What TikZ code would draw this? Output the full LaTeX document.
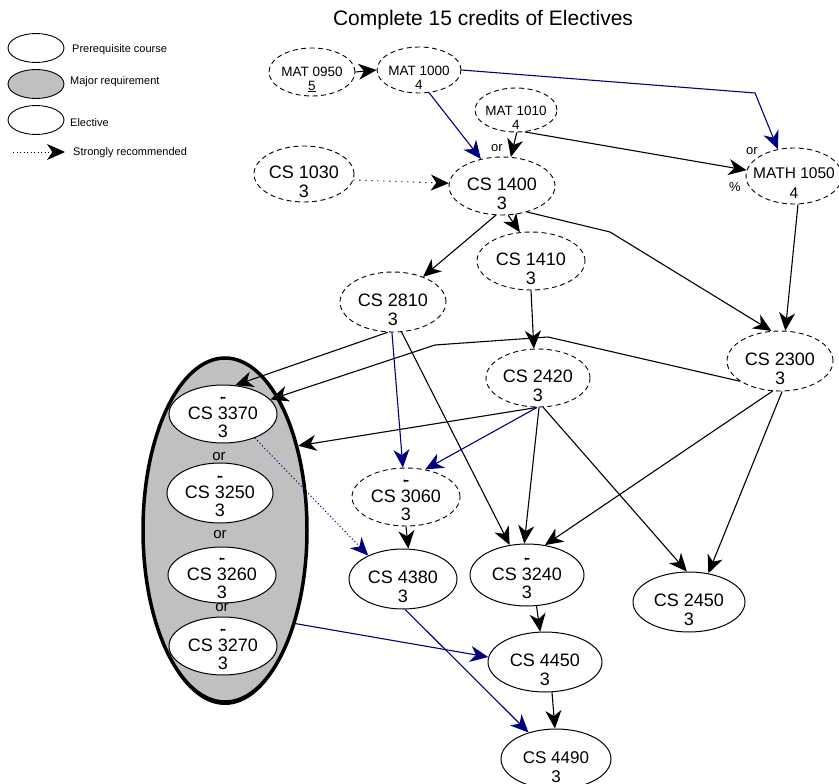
\documentclass[tikz,border=0pt]{standalone}
\usepackage{fontspec}
\setmainfont{Liberation Sans}
\newfontfamily\dejavu{DejaVu Sans}
\usetikzlibrary{arrows.meta,shapes.geometric,shadows}
\definecolor{navyc}{RGB}{0,0,128}
\definecolor{majgray}{RGB}{192,192,192}
\newcommand{\lsym}{{\dejavu\fontsize{7}{7}\selectfont ⬅}}
\newcommand{\ctext}[2]{\rule{0pt}{27.3pt}#1\\[2pt]#2}
\newcommand{\gtext}[2]{\rule{0pt}{9.3pt}\smash{\lsym}\\[2pt]#1\\[1pt]#2}
\newcommand{\mtext}[2]{\rule{0pt}{24.2pt}#1\\[0pt]#2}
\begin{document}
\begin{tikzpicture}[x=1pt,y=-1pt,
  crs/.style={ellipse, inner sep=-12pt, align=center, font=\fontsize{18}{17}\selectfont},
  pre/.style={crs, draw, dash pattern=on 5pt off 3.5pt, line width=0.9pt},
  ele/.style={crs, draw, fill=white, line width=1pt},
  small/.style={font=\fontsize{13.5}{14}\selectfont},
  tipb/.style={-{Stealth[length=18pt,width=16pt,inset=5.5pt]}},
  blk/.style={tipb, line width=1.1pt, draw=black},
  nvy/.style={tipb, line width=1.1pt, draw=navyc},
  dot/.style={dash pattern=on 1pt off 2.5pt},
  wdot/.style={dash pattern=on 1.2pt off 4.8pt},
  lab/.style={font=\fontsize{13}{13}\selectfont, inner sep=0pt},
  orl/.style={font=\fontsize{15}{15}\selectfont, inner sep=0pt},
  lgt/.style={anchor=west, inner sep=0pt, font=\fontsize{11}{11}\selectfont},
  lge/.style={ellipse, draw, line width=0.9pt, minimum width=56pt, minimum height=29pt}]
\useasboundingbox (0,0) rectangle (839,784);

% title
\node[font=\fontsize{21}{21}\selectfont] (title) at (483,20) {Complete 15 credits of Electives};

% legend
\node[lge] (lg1) at (36,48) {};
\node[lge, fill=majgray] (lg2) at (36,84) {};
\node[lge] (lg3) at (36,120) {};
\node[lgt] (lt1) at (72,50) {Prerequisite course};
\node[lgt] (lt2) at (70,82) {Major requirement};
\node[lgt] (lt3) at (70,123) {Elective};
\node[lgt] (lt4) at (73,153) {Strongly recommended};
\coordinate (ls) at (13,152);
\coordinate (le) at (65,152);
\draw[blk, dot, line width=1pt] (ls) -- (le);

% major requirement group
\node[ellipse, minimum width=164pt, minimum height=344pt, fill=majgray, draw=black, line width=3.5pt,
  drop shadow={shadow xshift=0pt, shadow yshift=-3pt, fill=black, opacity=1}] (major) at (225,530) {};
\node[ele, minimum width=108pt, minimum height=58pt] (c3370) at (223,414) {\gtext{CS 3370}{3}};
\node[ele, minimum width=106pt, minimum height=60pt] (c3250) at (220,493) {\gtext{CS 3250}{3}};
\node[ele, minimum width=108pt, minimum height=56pt] (c3260) at (222,575) {\gtext{CS 3260}{3}};
\node[ele, minimum width=108pt, minimum height=58pt] (c3270) at (223,646) {\gtext{CS 3270}{3}};
\node[orl] (or3) at (219,457) {or};
\node[orl] (or4) at (220,535) {or};
\node[orl] (or5) at (222,608) {or};

% prerequisite (dashed) courses
\node[pre, small, minimum width=86pt, minimum height=48pt] (m0950) at (312,72) {\mtext{MAT 0950}{\underline{5}}};
\node[pre, small, minimum width=84pt, minimum height=46pt] (m1000) at (419,70) {\mtext{MAT 1000}{4}};
\node[pre, small, minimum width=82pt, minimum height=44pt] (m1010) at (516,110) {\mtext{MAT 1010}{4}};
\node[pre, minimum width=100pt, minimum height=56pt] (c1030) at (304,174) {\ctext{CS 1030}{3}};
\node[pre, minimum width=106pt, minimum height=58pt] (c1400) at (502,186) {\ctext{CS 1400}{3}};
\node[pre, font=\fontsize{15.5}{16}\selectfont, minimum width=96pt, minimum height=56pt] (m1050) at (794,176) {\rule{0pt}{24.2pt}MATH 1050\\[4pt]4};
\node[pre, minimum width=108pt, minimum height=58pt] (c1410) at (531,261) {\ctext{CS 1410}{3}};
\node[pre, minimum width=106pt, minimum height=60pt] (c2810) at (393,302) {\ctext{CS 2810}{3}};
\node[pre, minimum width=106pt, minimum height=60pt] (c2300) at (780,361) {\ctext{CS 2300}{3}};
\node[pre, minimum width=104pt, minimum height=58pt] (c2420) at (538,378) {\ctext{CS 2420}{3}};
\node[pre, minimum width=108pt, minimum height=58pt] (c3060) at (406,497) {\gtext{CS 3060}{3}};

% elective courses
\node[ele, minimum width=108pt, minimum height=60pt] (c4380) at (403,579) {\ctext{CS 4380}{3}};
\node[ele, minimum width=114pt, minimum height=62pt] (c3240) at (527,575) {\gtext{CS 3240}{3}};
\node[ele, minimum width=112pt, minimum height=60pt] (c2450) at (689,602) {\ctext{CS 2450}{3}};
\node[ele, minimum width=114pt, minimum height=60pt] (c4450) at (545,662) {\ctext{CS 4450}{3}};
\node[ele, minimum width=110pt, minimum height=60pt, font=\fontsize{17}{17}\selectfont] (c4490) at (556,759) {\ctext{CS 4490}{3}};

% labels
\node[lab] (or1) at (497,148) {or};
\node[lab] (or2) at (752,151) {or};
\node[lab] (pct) at (735,187) {\%};

% connectors
\coordinate (k1) at (755,93);
\coordinate (k2) at (610,232);
\coordinate (k3) at (548,337);
\coordinate (k4) at (435,345);

\draw[blk] (m0950.east) -- (m1000.west);
\draw[nvy] (m1000.-66) -- (c1400.128);
\draw[nvy] (m1000.east) -- (k1) -- (m1050.121);
\draw[blk] (m1010.-88) -- (c1400.73);
\draw[blk] (m1010.-68) -- (m1050.173);
\draw[blk, wdot] (c1030.-7) -- (c1400.177);
\draw[blk] (c1400.-102) -- (c2810.40);
\draw[blk] (c1400.-78) -- (c1410.111);
\draw[blk] (c1400.-46) -- (k2) -- (c2300.106);
\draw[blk] (m1050.-82) -- (c2300.80);
\draw[blk] (c1410.south) -- (c2420.98);
\draw[blk] (c2810.-100) -- (c3370.67);
\draw[blk] (c2300.-153) -- (k3) -- (k4) -- (c3370.17);
\draw[nvy] (c2810.-92) -- (c3060.96);
\draw[blk] (c2810.-74) -- (c3240.120);
\draw[blk] (c2420.-92) -- (major.49);
\draw[nvy] (c2420.-92) -- (c3060.55);
\draw[blk] (c2420.-88) -- (c3240.95);
\draw[blk] (c2420.-80) -- (c2450.94);
\draw[blk] (c2300.-104) -- (c3240.59);
\draw[blk] (c2300.-86) -- (c2450.56);
\draw[nvy, dot] (c3370.-37) -- (c4380.146);
\draw[blk] (c3060.south) -- (c4380.80);
\draw[blk] (c3240.-73) -- (c4450.99);
\draw[nvy] (major.-53) -- (c4450.175);
\draw[nvy] (c4380.-86) -- (c4490.136);
\draw[blk] (c4450.-77) -- (c4490.92);
\end{tikzpicture}
\end{document}
